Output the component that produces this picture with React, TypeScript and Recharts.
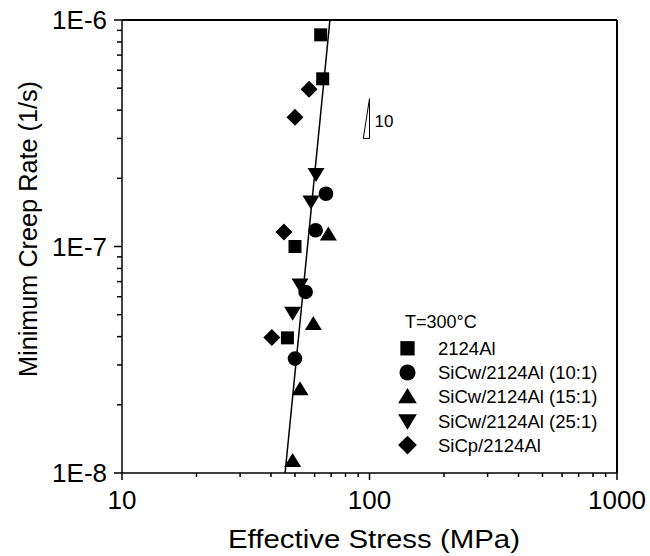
import { ScatterChart, Scatter, XAxis, YAxis, ReferenceLine, ReferenceDot, Legend } from "recharts"

const FONT = '"Liberation Sans", Arial, Helvetica, sans-serif'

interface Pt {
  stress: number // MPa
  rate: number // 1/s
}

const al2124: Pt[] = [
  { stress: 63.5, rate: 8.6e-7 },
  { stress: 64.7, rate: 5.5e-7 },
  { stress: 50.0, rate: 1.0e-7 },
  { stress: 46.6, rate: 3.95e-8 },
]
const sicw10: Pt[] = [
  { stress: 66.7, rate: 1.71e-7 },
  { stress: 60.6, rate: 1.18e-7 },
  { stress: 55.2, rate: 6.3e-8 },
  { stress: 50.0, rate: 3.2e-8 },
]
const sicw15: Pt[] = [
  { stress: 68.2, rate: 1.13e-7 },
  { stress: 59.3, rate: 4.55e-8 },
  { stress: 52.4, rate: 2.34e-8 },
  { stress: 48.9, rate: 1.13e-8 },
]
const sicw25: Pt[] = [
  { stress: 60.8, rate: 2.09e-7 },
  { stress: 58.0, rate: 1.58e-7 },
  { stress: 52.4, rate: 6.8e-8 },
  { stress: 48.9, rate: 5.1e-8 },
]
const sicp: Pt[] = [
  { stress: 57.0, rate: 4.94e-7 },
  { stress: 50.0, rate: 3.72e-7 },
  { stress: 45.1, rate: 1.16e-7 },
  { stress: 40.3, rate: 3.96e-8 },
]

// fitted power-law line (n ~ 10)
const fitLine: Pt[] = [
  { stress: 45.6, rate: 1e-8 },
  { stress: 69.2, rate: 1e-6 },
]

// small slope triangle marked "10"
const slopeTriangle: Pt[] = [
  { stress: 94.4, rate: 3.0e-7 },
  { stress: 100, rate: 3.0e-7 },
  { stress: 100, rate: 4.5e-7 },
  { stress: 94.4, rate: 3.0e-7 },
]

const xTicks = [10, 20, 30, 40, 50, 60, 70, 80, 90, 100, 200, 300, 400, 500, 600, 700, 800, 900, 1000]
const xMajorTicks = [10, 100, 1000]
const xMajorLabels = ["10", "100", "1000"]

const yTicks = [
  1e-8, 2e-8, 3e-8, 4e-8, 5e-8, 6e-8, 7e-8, 8e-8, 9e-8,
  1e-7, 2e-7, 3e-7, 4e-7, 5e-7, 6e-7, 7e-7, 8e-7, 9e-7,
  1e-6,
]
const yMajorTicks = [1e-8, 1e-7, 1e-6]
const yMajorLabels = ["1E-8", "1E-7", "1E-6"]

type Kind = "square" | "circle" | "up" | "down" | "diamond"

const legendItems: { kind: Kind; label: string }[] = [
  { kind: "square", label: "2124Al" },
  { kind: "circle", label: "SiCw/2124Al (10:1)" },
  { kind: "up", label: "SiCw/2124Al (15:1)" },
  { kind: "down", label: "SiCw/2124Al (25:1)" },
  { kind: "diamond", label: "SiCp/2124Al" },
]

function Marker({ kind, cx, cy, k = 1 }: { kind: Kind; cx: number; cy: number; k?: number }) {
  switch (kind) {
    case "square":
      return <rect x={cx - 6.5 * k} y={cy - 6.5 * k} width={13 * k} height={13 * k} fill="#000" />
    case "circle":
      return <circle cx={cx} cy={cy} r={7.3 * k} fill="#000" />
    case "up":
      return (
        <path
          d={`M${cx},${cy - 8 * k} L${cx + 8.5 * k},${cy + 6 * k} L${cx - 8.5 * k},${cy + 6 * k} Z`}
          fill="#000"
        />
      )
    case "down":
      return (
        <path
          d={`M${cx},${cy + 8 * k} L${cx + 8.5 * k},${cy - 6 * k} L${cx - 8.5 * k},${cy - 6 * k} Z`}
          fill="#000"
        />
      )
    default:
      return (
        <path
          d={`M${cx},${cy - 8.5 * k} L${cx + 8.5 * k},${cy} L${cx},${cy + 8.5 * k} L${cx - 8.5 * k},${cy} Z`}
          fill="#000"
        />
      )
  }
}

const XTick = (props: any) => {
  const { x, y, payload } = props
  const i = xMajorTicks.indexOf(payload.value)
  const major = i >= 0
  return (
    <g>
      <line x1={x} y1={y} x2={x} y2={y + (major ? 7 : 4)} stroke="#000" strokeWidth={1.5} />
      {major && (
        <text x={x} y={y + 36} textAnchor="middle" fontSize={26} fontFamily={FONT} fill="#000">
          {xMajorLabels[i]}
        </text>
      )}
    </g>
  )
}

const YTick = (props: any) => {
  const { x, y, payload } = props
  const i = yMajorTicks.indexOf(payload.value)
  const major = i >= 0
  return (
    <g>
      <line x1={x} y1={y} x2={x - (major ? 8 : 5)} y2={y} stroke="#000" strokeWidth={1.5} />
      {major && (
        <text x={x - 15} y={y} dy="0.36em" textAnchor="end" fontSize={26} fontFamily={FONT} fill="#000">
          {yMajorLabels[i]}
        </text>
      )}
    </g>
  )
}

const renderLegend = () => (
  <svg width={230} height={150} style={{ display: "block" }}>
    <text x={7} y={20} fontSize={18} fontFamily={FONT} fill="#000">
      T=300°C
    </text>
    {legendItems.map((item, i) => (
      <g key={item.label}>
        <Marker kind={item.kind} cx={9.5} cy={40.3 + 24.2 * i} k={1.1} />
        <text x={40} y={40.3 + 24.2 * i} dy="0.36em" fontSize={18.5} fontFamily={FONT} fill="#000">
          {item.label}
        </text>
      </g>
    ))}
  </svg>
)

export default function App() {
  return (
    <div style={{ position: "absolute", left: 0, top: 0, width: 650, height: 556, background: "#fff" }}>
      <ScatterChart width={650} height={556} margin={{ top: 20, right: 33, bottom: 0, left: 0 }}>
        <XAxis
          dataKey="stress"
          type="number"
          scale="log"
          domain={[10, 1000]}
          ticks={xTicks}
          interval={0}
          height={83}
          tickSize={0}
          tickMargin={0}
          tick={<XTick />}
          axisLine={{ stroke: "#000", strokeWidth: 1.5 }}
          label={{
            content: () => (
              <text
                x={374}
                y={548}
                textAnchor="middle"
                fontSize={26}
                textLength={292}
                lengthAdjust="spacingAndGlyphs"
                fontFamily={FONT}
                fill="#000"
              >
                Effective Stress (MPa)
              </text>
            ),
          }}
        />
        <YAxis
          dataKey="rate"
          type="number"
          scale="log"
          domain={[1e-8, 1e-6]}
          ticks={yTicks}
          interval={0}
          width={122}
          tickSize={0}
          tickMargin={0}
          tick={<YTick />}
          axisLine={{ stroke: "#000", strokeWidth: 1.5 }}
          label={{
            content: () => (
              <text
                x={37}
                y={229}
                transform="rotate(-90, 37, 229)"
                textAnchor="middle"
                fontSize={25}
                textLength={296}
                lengthAdjust="spacingAndGlyphs"
                fontFamily={FONT}
                fill="#000"
              >
                Minimum Creep Rate (1/s)
              </text>
            ),
          }}
        />
        <ReferenceLine y={1e-6} stroke="#000" strokeWidth={2} />
        <ReferenceLine x={1000} stroke="#000" strokeWidth={2} />

        <Scatter
          data={fitLine}
          line={{ stroke: "#000", strokeWidth: 1.5 }}
          shape={() => <g />}
          legendType="none"
          isAnimationActive={false}
        />
        <Scatter
          data={slopeTriangle}
          line={{ stroke: "#000", strokeWidth: 1 }}
          shape={() => <g />}
          legendType="none"
          isAnimationActive={false}
        />
        <ReferenceDot
          x={100}
          y={3.6e-7}
          r={0}
          stroke="none"
          label={{ value: "10", position: "right", offset: 5, fontSize: 17, fontFamily: FONT, fill: "#000" }}
        />

        <Scatter name="2124Al" data={al2124} shape={(p: any) => <Marker kind="square" cx={p.cx} cy={p.cy} />} isAnimationActive={false} />
        <Scatter name="SiCw/2124Al (10:1)" data={sicw10} shape={(p: any) => <Marker kind="circle" cx={p.cx} cy={p.cy} />} isAnimationActive={false} />
        <Scatter name="SiCw/2124Al (15:1)" data={sicw15} shape={(p: any) => <Marker kind="up" cx={p.cx} cy={p.cy} />} isAnimationActive={false} />
        <Scatter name="SiCw/2124Al (25:1)" data={sicw25} shape={(p: any) => <Marker kind="down" cx={p.cx} cy={p.cy} />} isAnimationActive={false} />
        <Scatter name="SiCp/2124Al" data={sicp} shape={(p: any) => <Marker kind="diamond" cx={p.cx} cy={p.cy} />} isAnimationActive={false} />

        <Legend
          layout="vertical"
          align="center"
          verticalAlign="middle"
          content={renderLegend}
          wrapperStyle={{ left: 398, top: 308, width: 230, height: 150 }}
        />
      </ScatterChart>
    </div>
  )
}
